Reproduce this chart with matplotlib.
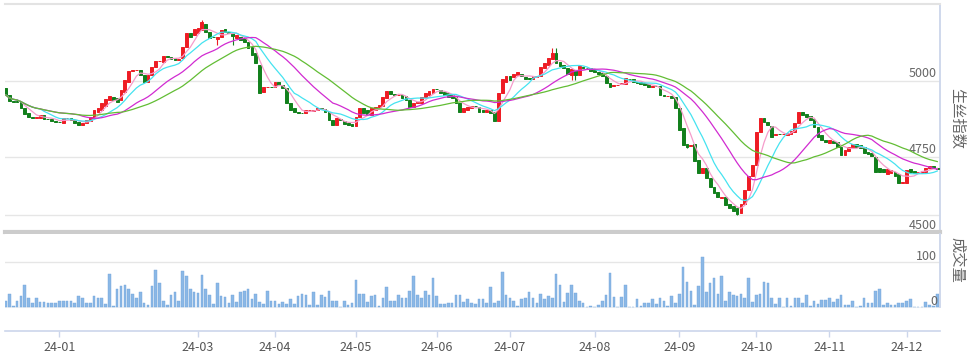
import numpy as np
import pandas as pd
import matplotlib
matplotlib.use('Agg')
import matplotlib.pyplot as plt
import matplotlib.transforms as mtransforms

plt.rcParams['font.family'] = ['Noto Sans CJK SC', 'DejaVu Sans']

# daily candles, mid Dec 2023 .. Dec 2024 (trading days)
opens = [
    4977, 4954, 4934, 4933, 4931, 4911, 4895, 4882, 4878, 4878,
    4888, 4875, 4875, 4868, 4865, 4862, 4878, 4878, 4872, 4865,
    4855, 4862, 4868, 4878, 4898, 4905, 4918, 4938, 4947, 4944,
    4938, 4964, 4997, 5033, 5035,
    5036, 5020, 4997, 5020, 5046, 5066, 5062, 5082, 5079, 5076,
    5069, 5076, 5112, 5158, 5151, 5158, 5168, 5187, 5161, 5144,
    5138, 5145, 5171, 5161, 5158, 5141, 5145, 5141, 5128, 5112,
    5092, 5053,
    4964, 4980, 4981, 4980, 4997, 4987, 4977, 4928, 4911, 4898,
    4895, 4895, 4904, 4901, 4905, 4911, 4908, 4898, 4872, 4855,
    4875, 4868, 4862, 4859, 4852, 4882, 4911, 4905, 4888, 4905,
    4914, 4918, 4944, 4967, 4957,
    4954, 4954, 4951, 4938, 4915, 4928, 4928, 4947, 4954, 4961,
    4974, 4970, 4964, 4961, 4954, 4947, 4928, 4898, 4905, 4911,
    4918, 4915, 4905, 4898, 4905, 4898, 4868, 4961, 4997, 5016,
    5013, 5020, 5023, 5013,
    5008, 5007, 5013, 5016, 5043, 5053, 5072, 5092, 5062, 5053,
    5043, 5020, 5036, 5020, 5046, 5043, 5043, 5036, 5030, 5026,
    5016, 4993, 4984, 4987, 4990, 4990, 5007, 5007, 4997, 4997,
    4993, 4990, 4980,
    4983, 4984, 4953, 4951, 4951, 4947, 4911, 4845, 4793, 4786,
    4793, 4740, 4697, 4714, 4681, 4651, 4635, 4615, 4618, 4596,
    4589, 4582, 4566, 4596, 4641, 4688, 4724, 4832, 4878, 4865,
    4852, 4822, 4826, 4825, 4822,
    4826, 4832, 4862, 4898, 4891, 4885, 4875, 4849, 4822, 4806,
    4796, 4803, 4799, 4783, 4757, 4770, 4780, 4793, 4789, 4783,
    4766, 4763, 4750, 4714, 4711, 4694, 4697, 4701, 4694, 4664,
    4664, 4711, 4704, 4697, 4697, 4701, 4714, 4720, 4714,
]
closes = [
    4954, 4934, 4931, 4930, 4911, 4891, 4882, 4878, 4881, 4888,
    4875, 4874, 4868, 4865, 4864, 4878, 4879, 4872, 4862, 4855,
    4862, 4872, 4882, 4905, 4911, 4928, 4941, 4951, 4938, 4931,
    4970, 5003, 5033, 5036, 5037,
    5020, 4997, 5020, 5046, 5066, 5067, 5082, 5080, 5072, 5069,
    5071, 5112, 5158, 5145, 5171, 5174, 5194, 5161, 5141, 5143,
    5145, 5168, 5161, 5158, 5148, 5151, 5135, 5128, 5109, 5085,
    5059, 4961,
    4980, 4981, 4980, 4997, 4987, 4977, 4928, 4905, 4898, 4895,
    4894, 4905, 4905, 4905, 4911, 4909, 4898, 4872, 4855, 4878,
    4872, 4859, 4855, 4852, 4882, 4911, 4895, 4891, 4911, 4914,
    4921, 4947, 4967, 4957, 4954,
    4955, 4944, 4938, 4915, 4928, 4931, 4947, 4961, 4967, 4974,
    4973, 4961, 4954, 4947, 4944, 4928, 4898, 4911, 4915, 4918,
    4916, 4898, 4898, 4905, 4895, 4868, 4961, 5007, 5016, 5003,
    5023, 5030, 5016, 5007,
    5006, 5016, 5016, 5046, 5059, 5076, 5092, 5059, 5049, 5043,
    5023, 5039, 5020, 5049, 5043, 5042, 5033, 5030, 5023, 5016,
    4993, 4980, 4987, 4988, 4993, 5010, 5006, 4997, 4993, 4990,
    4987, 4980, 4982,
    4982, 4954, 4951, 4952, 4944, 4911, 4839, 4789, 4783, 4789,
    4737, 4697, 4714, 4681, 4651, 4632, 4618, 4618, 4592, 4582,
    4572, 4563, 4596, 4641, 4688, 4724, 4832, 4878, 4865, 4855,
    4816, 4826, 4825, 4826, 4829,
    4836, 4862, 4898, 4888, 4882, 4872, 4849, 4816, 4806, 4799,
    4806, 4796, 4783, 4757, 4773, 4783, 4793, 4783, 4780, 4763,
    4760, 4753, 4701, 4701, 4701, 4711, 4707, 4688, 4664, 4668,
    4707, 4701, 4697, 4701, 4704, 4714, 4720, 4714, 4711,
]
volumes = [
    13, 28, 2, 13, 24, 50, 19, 8, 21, 12,
    12, 10, 10, 10, 13, 13, 13, 13, 8, 24,
    21, 10, 9, 24, 19, 19, 7, 73, 2, 39,
    47, 50, 39, 29, 19, 34, 10, 4, 47, 82,
    53, 13, 4, 27, 34, 13, 80, 69, 41, 33,
    32, 71, 39, 27, 7, 53, 24, 23, 8, 27,
    12, 34, 36, 39, 18, 30, 12, 7, 36, 14,
    14, 7, 12, 6, 18, 7, 24, 29, 27, 4,
    34, 4, 27, 23, 36, 14, 14, 0, 13, 4,
    10, 61, 29, 29, 12, 24, 27, 2, 21, 44,
    14, 14, 27, 21, 21, 36, 69, 27, 21, 36,
    27, 64, 24, 7, 7, 10, 10, 27, 27, 12,
    17, 10, 7, 17, 17, 10,
    44, 10, 13, 77, 27, 21, 14, 3, 18, 19,
    34, 21, 10, 30, 18, 24, 19, 73, 49, 12,
    32, 50, 32, 13, 10, 0, 2, 0, 4, 14,
    27, 75, 23, 0, 22, 49, 0, 0, 17, 3,
    10, 8, 17, 7, 19, 14, 2, 24, 8, 30,
    88, 55, 36, 4, 47, 110, 34, 53, 64, 30,
    69, 14, 34, 27, 25, 30, 19, 64, 12, 27,
    29, 55, 53, 21, 7, 21, 0, 21, 2, 19,
    19, 10, 27, 2, 14, 7, 16, 16, 19, 12,
    18, 27, 4, 4, 14, 0, 2, 19, 10, 10,
    36, 41, 4, 8, 4, 4, 10, 10, 14, 17,
    0, 0, 0, 12, 4, 2, 30,
]
wick_high = {51: 5201, 142: 5109, 143: 5109}
wick_low = {55: 5118, 59: 5118, 147: 5003, 148: 5003, 177: 4779, 190: 4559}

month_pos = [14, 50, 70, 91, 112, 131, 153, 175, 195, 214, 234]
month_labels = ['24-01', '24-03', '24-04', '24-05', '24-06', '24-07',
                '24-08', '24-09', '24-10', '24-11', '24-12']

ma_windows = [5, 10, 20, 30]
ma_colors = ['#f59ccb', '#45e3f0', '#d12bd1', '#62bd34']

red = '#ee1c24'
green = '#12801c'
grid = '#e6e6e6'
axis_blue = '#ccd6eb'
text_grey = '#666666'

W, H = 970, 358
fig = plt.figure(figsize=(W / 100, H / 100), dpi=100)


def frame(x0, y0, x1, y1):
    return [x0 / W, 1 - y1 / H, (x1 - x0) / W, (y1 - y0) / H]


ax = fig.add_axes(frame(5, 4, 940, 232))
av = fig.add_axes(frame(5, 234, 940, 331), sharex=ax)

idx = np.arange(len(closes))
o = np.array(opens, dtype=float)
c = np.array(closes, dtype=float)
cols = np.where(c >= o, red, green)

# price panel
for y in [5000, 4750, 4559]:
    ax.axhline(y, color=grid, lw=1, zorder=0)
for i, h in wick_high.items():
    ax.vlines(i, max(o[i], c[i]), h, color=cols[i], lw=0.8, zorder=2)
for i, l in wick_low.items():
    ax.vlines(i, l, min(o[i], c[i]), color=cols[i], lw=0.8, zorder=2)
ax.bar(idx, np.abs(c - o), bottom=np.minimum(o, c), width=0.72,
       color=cols, edgecolor=cols, linewidth=0.7, zorder=3)

s = pd.Series(closes, dtype=float)
for w, col in zip(ma_windows, ma_colors):
    ax.plot(idx, s.rolling(w, min_periods=1).mean(), color=col, lw=0.9, zorder=4)

ax.set_xlim(-0.13, 242.7)
ax.set_ylim(4503, 5253)
ax.tick_params(bottom=False, left=False, labelbottom=False, labelleft=False)
ax.spines['left'].set_visible(False)
ax.spines['top'].set_color('#e3e3e3')
ax.spines['top'].set_linewidth(1.5)
ax.spines['bottom'].set_color('#cccccc')
ax.spines['bottom'].set_linewidth(3)
ax.spines['right'].set_color(axis_blue)
ax.spines['right'].set_linewidth(1.3)

tr = mtransforms.blended_transform_factory(ax.transAxes, ax.transData)
for v, t in [(5026, '5000'), (4773, '4750'), (4523, '4500')]:
    ax.text(0.9968, v, t, transform=tr, ha='right', va='center',
            fontsize=9, color=text_grey)

# volume panel
av.axhline(100, color=grid, lw=1, zorder=0)
av.axhline(0, color='#eef0f4', lw=0.8, zorder=0)
av.bar(idx, volumes, width=0.68, color='#8bb8e6', edgecolor='#6fa3d9',
       linewidth=0.3, zorder=2)
av.set_ylim(-53.3, 162.2)
for side in ['top', 'left', 'right']:
    av.spines[side].set_visible(False)
av.spines['bottom'].set_color(axis_blue)
av.spines['bottom'].set_linewidth(1.2)
av.axvline(242.7, ymin=53.3 / 215.5, ymax=1, color=axis_blue, lw=1.3, clip_on=False)

av.set_xticks(month_pos)
av.set_xticklabels(month_labels)
av.tick_params(axis='x', length=4.5, width=1, color=axis_blue,
               labelsize=9, labelcolor='#555555', pad=2.5)
av.tick_params(axis='y', left=False, labelleft=False)

trv = mtransforms.blended_transform_factory(av.transAxes, av.transData)
for v, t in [(113, '100'), (13, '0')]:
    av.text(0.9968, v, t, transform=trv, ha='right', va='center',
            fontsize=9, color=text_grey)

fig.text(957 / W, 1 - 118 / H, '生丝指数', rotation=270, ha='center', va='center',
         fontsize=11, color=text_grey)
fig.text(957 / W, 1 - 260 / H, '成交量', rotation=270, ha='center', va='center',
         fontsize=11, color=text_grey)

fig.savefig('out.png', dpi=100)
